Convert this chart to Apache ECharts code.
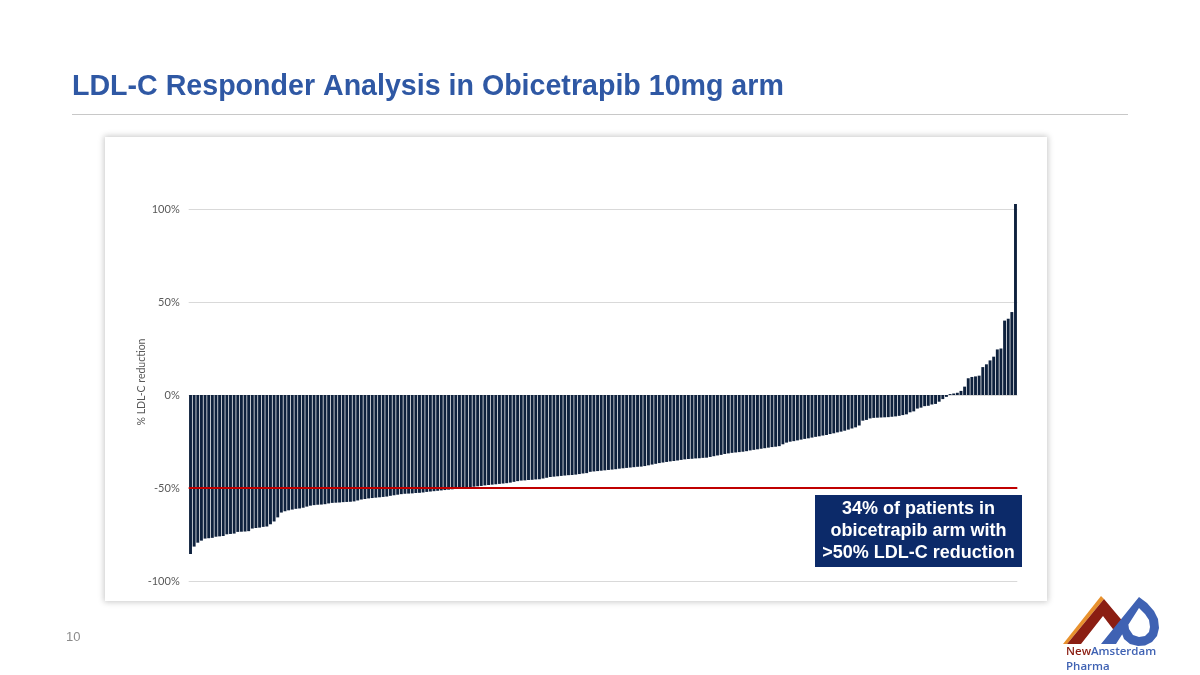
<!DOCTYPE html>
<html>
<head>
<meta charset="utf-8">
<script src="https://cdn.jsdelivr.net/npm/echarts@6/dist/echarts.min.js"></script>
<style>
html,body{margin:0;padding:0;background:#fff;}
#card{position:absolute;left:105px;top:137px;width:942px;height:464px;background:#fff;box-shadow:0 0 6px 1px rgba(0,0,0,0.22);}
#chart{position:absolute;left:0;top:0;width:1200px;height:675px;}
</style>
</head>
<body>
<div id="card"></div>
<div id="chart"></div>
<script>
// Patient index categories (sorted waterfall)
const values = [
-85.5,-81.5,-79.4,-78.3,-77.2,-77.0,-76.8,-76.2,-76.0,-75.8,
-74.9,-74.7,-74.5,-73.6,-73.5,-73.4,-73.2,-71.8,-71.5,-71.3,
-70.9,-70.7,-69.5,-68.0,-65.8,-63.2,-62.5,-62.0,-61.6,-61.2,
-61.0,-60.6,-60.0,-59.5,-59.2,-59.0,-58.9,-58.7,-58.3,-58.0,
-57.9,-57.8,-57.6,-57.5,-57.4,-57.2,-56.7,-56.2,-55.9,-55.6,
-55.4,-55.2,-55.0,-54.8,-54.6,-54.2,-53.9,-53.6,-53.3,-53.1,
-53.0,-52.9,-52.7,-52.6,-52.4,-52.1,-51.9,-51.7,-51.5,-51.3,
-51.1,-50.9,-50.7,-50.5,-50.4,-50.3,-50.2,-50.1,-49.3,-49.1,
-48.9,-48.6,-48.4,-48.2,-48.0,-47.8,-47.6,-47.4,-47.1,-46.7,
-46.3,-46.0,-45.9,-45.7,-45.6,-45.4,-45.3,-44.9,-44.5,-44.1,
-43.9,-43.7,-43.5,-43.3,-43.1,-43.0,-42.8,-42.5,-42.2,-42.0,
-41.3,-41.1,-40.9,-40.7,-40.5,-40.3,-40.1,-39.9,-39.6,-39.4,
-39.2,-39.0,-38.8,-38.6,-38.5,-38.2,-37.8,-37.4,-37.0,-36.6,
-36.3,-36.0,-35.7,-35.5,-35.2,-34.9,-34.6,-34.4,-34.3,-34.1,
-34.0,-33.8,-33.7,-33.3,-32.9,-32.5,-32.2,-31.7,-31.4,-31.1,
-30.9,-30.7,-30.5,-30.2,-29.8,-29.5,-29.2,-28.9,-28.6,-28.3,
-28.0,-27.8,-27.5,-26.5,-25.6,-25.1,-24.8,-24.4,-24.0,-23.6,
-23.3,-22.9,-22.5,-22.2,-21.8,-21.5,-21.0,-20.6,-20.1,-19.7,
-19.2,-18.6,-18.0,-17.4,-16.4,-13.8,-13.4,-12.6,-12.3,-12.2,
-12.1,-12.0,-11.9,-11.7,-11.5,-11.2,-10.8,-10.4,-9.3,-8.8,
-7.3,-6.8,-6.0,-5.8,-5.1,-4.8,-3.6,-2.2,-1.0,0.5,
0.8,1.2,2.2,4.5,9.0,9.7,10.0,10.4,15.0,16.5,
18.6,20.6,24.5,25.0,40.0,41.0,44.6,102.7
];
const categories = values.map((v, i) => 'P' + (i + 1));
const yTicks = [-100, -50, 0, 50, 100];
const threshold = -50;
const titleText = 'LDL-C Responder Analysis in Obicetrapib 10mg arm';
const yAxisTitle = '% LDL-C reduction';
const calloutLines = ['34% of patients in', 'obicetrapib arm with', '>50% LDL-C reduction'];

const chart = echarts.init(document.getElementById('chart'), null, {renderer: 'canvas'});
chart.setOption({
  backgroundColor: 'transparent',
  animation: false,
  grid: {left: 188.7, right: 182.7, top: 209, bottom: 94, containLabel: false},
  xAxis: {
    type: 'category', data: categories,
    axisLine: {show: false}, axisTick: {show: false}, axisLabel: {show: false},
    splitLine: {show: false}
  },
  yAxis: {
    type: 'value', min: yTicks[0], max: yTicks[yTicks.length - 1], interval: 50,
    axisLine: {show: false}, axisTick: {show: false},
    axisLabel: {
      formatter: v => v + '%', color: '#595959', fontFamily: 'Lato', fontSize: 11, margin: 9
    },
    splitLine: {lineStyle: {color: '#d9d9d9', width: 1}}
  },
  series: [{
    type: 'bar', data: values, clip: false,
    barCategoryGap: '20%',
    itemStyle: {color: '#0e213d'},
    markLine: {
      silent: true, symbol: 'none',
      label: {show: false},
      lineStyle: {color: '#c00000', width: 2, type: 'solid'},
      data: [{yAxis: threshold}]
    }
  }],
  graphic: [
    {type: 'text', x: 72, y: 73, style: {text: titleText, font: 'bold 28.6px "Liberation Sans", Arial, sans-serif', fill: '#2f58a4'}},
    {type: 'line', shape: {x1: 72, y1: 114.5, x2: 1128, y2: 114.5}, style: {stroke: '#c8c8c8', lineWidth: 1}},
    {type: 'text', x: 142, y: 382, rotation: Math.PI / 2,
      style: {text: yAxisTitle, font: '10.5px Lato, sans-serif', fill: '#595959', textAlign: 'center', textVerticalAlign: 'middle'}},
    {type: 'rect', shape: {x: 815, y: 495, width: 207, height: 72}, style: {fill: '#0c2a69'}, z: 10},
    {type: 'text', x: 918.5, y: 531.5, z: 11,
      style: {text: calloutLines.join('\n'), font: 'bold 18px "Liberation Sans", Arial, sans-serif', fill: '#ffffff', textAlign: 'center', textVerticalAlign: 'middle', lineHeight: 22}},
    {type: 'text', x: 66, y: 631, style: {text: '10', font: '13px "Liberation Sans", Arial, sans-serif', fill: '#8c8c8c'}},
    // logo
    {type: 'polygon', shape: {points: [[1063,644],[1101,596],[1104,599],[1067,644]]}, style: {fill: '#e8912d'}},
    {type: 'polygon', shape: {points: [[1067,644],[1104,599],[1125,624],[1116,633],[1103,616],[1081,644]]}, style: {fill: '#8b1e12'}},
    {type: 'polygon', shape: {points: [[1101,644],[1139,597],[1147,603],[1154,611],[1158,619],[1159,628],[1157,636],[1152,642],[1145,645.5],[1138,646],[1130,644],[1124,639],[1121,631],[1128,622],[1129,629],[1133,635],[1139,637],[1145,636],[1149,632],[1150,627],[1149,620],[1145,614],[1139,608],[1116,644]]}, style: {fill: '#3f62b3'}},
    {type: 'text', x: 1066, y: 646, style: {
      text: '{a|New}{b|Amsterdam}', rich: {
        a: {fontFamily: 'Open Sans', fontWeight: 600, fontSize: 11.5, fill: '#8b1e12'},
        b: {fontFamily: 'Open Sans', fontWeight: 600, fontSize: 11.5, fill: '#3f62b3'}
      }}},
    {type: 'text', x: 1066, y: 661, style: {text: 'Pharma', font: '600 11.5px "Open Sans", sans-serif', fill: '#3f62b3'}}
  ]
});
</script>
</body>
</html>
